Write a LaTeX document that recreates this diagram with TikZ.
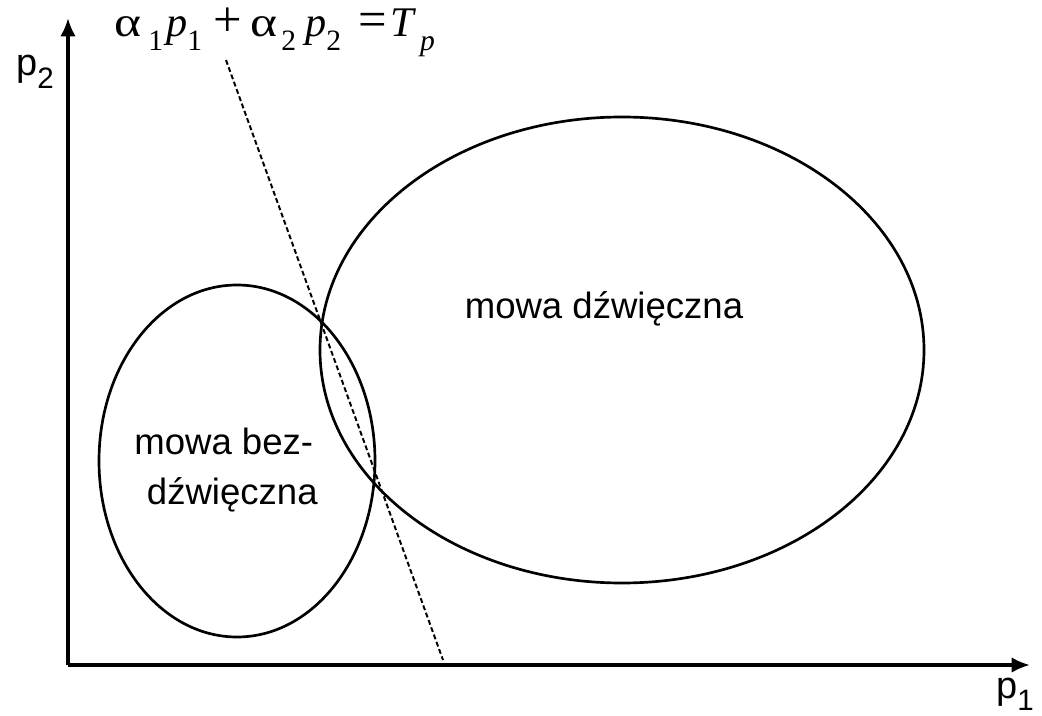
\documentclass[tikz,border=0pt]{standalone}
\usepackage{fontspec}
\setmainfont{Liberation Sans}
\newfontfamily\formfont{Liberation Serif}
\usetikzlibrary{arrows.meta}
\newcommand{\lowsub}[1]{\raisebox{-0.33em}{\fontsize{21}{21}\selectfont #1}}
\newcommand{\glyph}[2]{\makebox[#1][l]{#2}}
\newcommand{\opglyph}[2]{\makebox[#1][c]{\fontsize{36}{36}\selectfont #2}}
\newcommand{\walpha}{\scalebox{1.22}[1]{α}}

\begin{document}
\begin{tikzpicture}[x=0.025cm,y=-0.025cm]
\useasboundingbox (0,0) rectangle (1042,716);
\coordinate (O) at (68,665);
\coordinate (ytop) at (68,18);
\coordinate (xend) at (1030,665);
\draw[line width=2.2pt, -{Latex[length=13pt,width=11pt]}] (O) -- (ytop);
\draw[line width=2.2pt, -{Latex[length=13pt,width=11pt]}] (O) -- (xend);
\node[font=\fontsize{27}{30}\selectfont] (p2) at (35,72) {p\lowsub{2}};
\node[font=\fontsize{27}{30}\selectfont, anchor=base west, inner sep=0pt] (p1) at (996,698) {p\lowsub{1}};
% regions
\draw[line width=1.9pt] (237,461) ellipse (138 and 176);
\draw[line width=1.9pt] (622,350) ellipse (302 and 233);
\coordinate (tA) at (226,60);
\coordinate (tB) at (443,660);
\draw[line width=1.4pt, dash pattern=on 3.5pt off 2pt] (tA) -- (tB);
\node[font=\fontsize{26}{36}\selectfont] (voiced) at (604,309) {mowa dźwięczna};
\node[font=\fontsize{26}{36}\selectfont, align=left] (unvoiced) at (226,470) {mowa bez-\\\hspace{9pt}dźwięczna};
\node[anchor=base west, inner sep=0pt] (eq) at (114,37)
  {\formfont\fontsize{30}{34}\selectfont
   \glyph{24.2pt}{\walpha}\glyph{12.8pt}{\lowsub{1}}\glyph{14.9pt}{\textit{p}}\glyph{12pt}{\lowsub{1}}%
   \opglyph{33pt}{+}\glyph{22pt}{\walpha}\glyph{17.1pt}{\lowsub{2}}\glyph{14.9pt}{\textit{p}}\glyph{20pt}{\lowsub{2}}%
   \opglyph{25.3pt}{=}\glyph{21.3pt}{\textit{T}}\lowsub{\textit{p}}};
\end{tikzpicture}
\end{document}
